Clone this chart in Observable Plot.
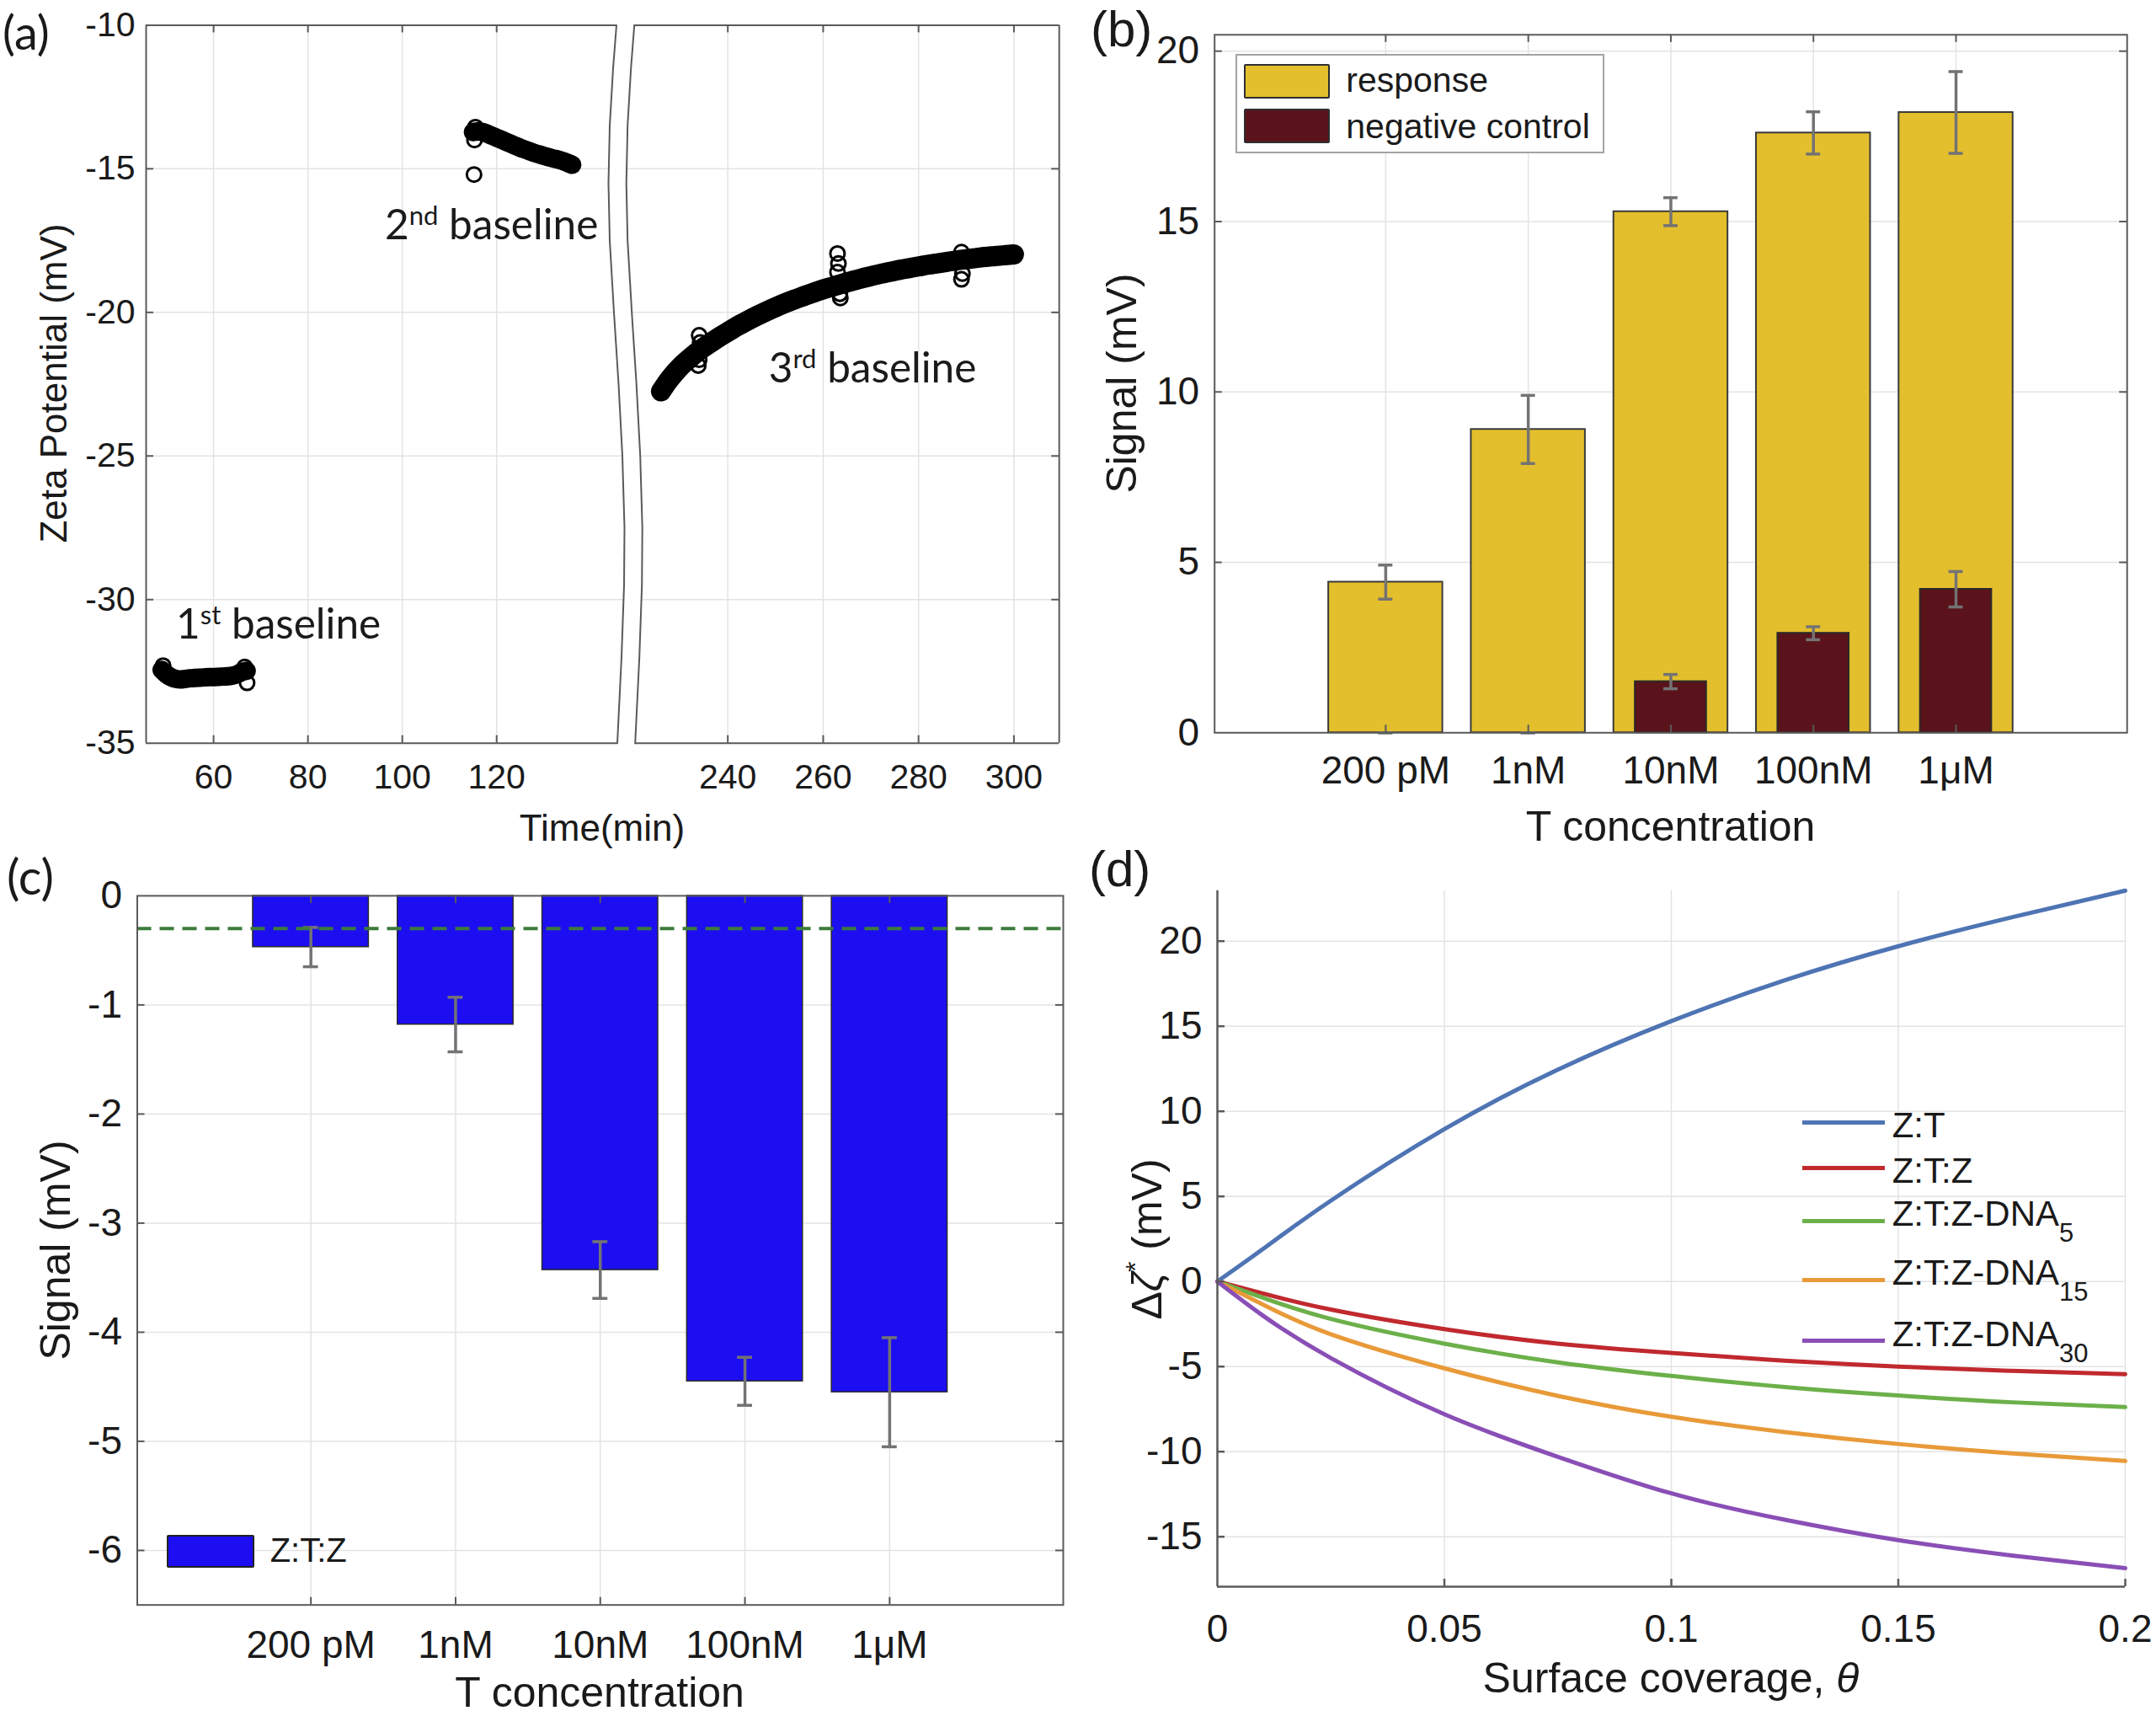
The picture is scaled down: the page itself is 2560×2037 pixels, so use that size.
<!DOCTYPE html>
<html><head><meta charset="utf-8">
<script src="https://cdn.jsdelivr.net/npm/d3@7"></script>
<script src="https://cdn.jsdelivr.net/npm/@observablehq/plot@0.6"></script>
<style>
html,body{margin:0;padding:0;background:#fff;}
#root{position:relative;width:2560px;height:2037px;background:#fff;overflow:hidden;font-family:"Liberation Sans",Arial,sans-serif;color:#1a1a1a;}
.panel{position:absolute;}
.panel svg{display:block;max-width:none;overflow:visible;}
.lbl{position:absolute;white-space:nowrap;line-height:1;}
.cal{font-family:Lato,"Liberation Sans",sans-serif;}
</style></head><body><div id="root"></div>
<script>
// ---------------- DATA ----------------
// Panel (a): zeta potential baselines (time in min, zeta in mV)
const base1Time = [49,50,51,52,53,54,55,56,57,58,59,60,61,62,63,64,65,66,67];
const base1Zeta = [-32.45,-32.6,-32.7,-32.76,-32.78,-32.76,-32.74,-32.73,-32.72,-32.71,-32.7,-32.7,-32.69,-32.68,-32.67,-32.65,-32.6,-32.52,-32.48];
const base2Time = [115,116,117,118,119,120,121,122,123,124,125,126,127,128,129,130,131,132,133,134,135,136];
const base2Zeta = [-13.72,-13.7,-13.72,-13.78,-13.85,-13.92,-13.99,-14.06,-14.13,-14.2,-14.27,-14.33,-14.39,-14.45,-14.5,-14.55,-14.6,-14.64,-14.68,-14.73,-14.79,-14.86];
const base3Time = [226,227,228,229,230,232,234,236,238,240,242,244,246,248,250,252,254,256,258,260,262,264,266,268,270,272,274,276,278,280,282,284,286,288,290,292,294,296,298,300];
const base3Zeta = [-22.75,-22.5,-22.28,-22.08,-21.9,-21.6,-21.33,-21.1,-20.88,-20.68,-20.48,-20.3,-20.13,-19.97,-19.82,-19.68,-19.55,-19.43,-19.31,-19.2,-19.1,-19.0,-18.91,-18.82,-18.74,-18.66,-18.59,-18.52,-18.46,-18.4,-18.34,-18.29,-18.24,-18.19,-18.15,-18.11,-18.07,-18.04,-18.01,-17.98];
const strayTime = [49.3,66.6,67.1,115.2,115.3,115.5,234,234.2,234,233.8,263,263.2,263,263.5,263.6,289,289.2,289];
const strayZeta = [-32.3,-32.35,-32.9,-15.2,-14.0,-13.55,-20.8,-21.05,-21.65,-21.85,-17.95,-18.3,-18.6,-19.35,-19.5,-17.9,-18.65,-18.85];
const aTimeTicks = [60,80,100,120,240,260,280,300];
const aZetaTicks = [-35,-30,-25,-20,-15,-10];

// Panel (b): response vs negative control
const concLabels = ["200 pM","1nM","10nM","100nM","1\u03BCM"];
const responseMean = [4.42, 8.9, 15.29, 17.6, 18.2];
const responseErr  = [0.5, 1.0, 0.41, 0.62, 1.2];
const controlMean  = [0, 0, 1.5, 2.92, 4.21];
const controlErr   = [0, 0, 0.21, 0.19, 0.52];
const bSignalTicks = [0,5,10,15,20];

// Panel (c): Z:T:Z signal
const ztzMean = [-0.47, -1.18, -3.43, -4.45, -4.55];
const ztzErr  = [0.18, 0.25, 0.26, 0.22, 0.5];
const noiseLevel = -0.3;
const cSignalTicks = [0,-1,-2,-3,-4,-5,-6];

// Panel (d): simulated delta zeta vs surface coverage
const coverage = [0, 0.01, 0.025, 0.05, 0.075, 0.1, 0.125, 0.15, 0.175, 0.2];
const dZT      = [0, 1.9, 4.75, 8.95, 12.45, 15.3, 17.7, 19.7, 21.4, 22.97];
const dZTZ     = [0, -0.7, -1.65, -2.8, -3.65, -4.2, -4.65, -5.0, -5.25, -5.45];
const dDNA5    = [0, -0.95, -2.2, -3.65, -4.75, -5.55, -6.2, -6.7, -7.1, -7.38];
const dDNA15   = [0, -1.35, -3.1, -5.1, -6.72, -7.95, -8.85, -9.55, -10.1, -10.55];
const dDNA30   = [0, -2.0, -4.5, -7.8, -10.3, -12.45, -14.0, -15.2, -16.1, -16.85];
const dSeries  = ["Z:T","Z:T:Z","Z:T:Z-DNA5","Z:T:Z-DNA15","Z:T:Z-DNA30"];
const dLegendBase = ["Z:T","Z:T:Z","Z:T:Z-DNA","Z:T:Z-DNA","Z:T:Z-DNA"];
const dLegendSub  = ["","","5","15","30"];
const dXTicks = [0,0.05,0.1,0.15,0.2];
const dYTicks = [-15,-10,-5,0,5,10,15,20];

// ---------------- STYLE ----------------
const GRID = "#e3e3e3", FRAME = "#5a5a5a", ERRC = "#737373";
const YELLOW = "#e4bf2d", MAROON = "#5a131a", BLUE = "#1d0ef2", DASHGREEN = "#3c7b3c";
const lineColors = ["#4e74b3","#c0292e","#6cb04a","#e89a39","#8a4fb6"];
const TL = 9; // inner tick length, px
const FONT = "Liberation Sans, Arial, sans-serif";

const root = document.getElementById("root");
function mount(svg, x, y, w, h) {
  const d = document.createElement("div");
  d.className = "panel";
  d.style.left = x + "px"; d.style.top = y + "px";
  d.style.width = w + "px"; d.style.height = h + "px";
  d.appendChild(svg); root.appendChild(d);
}
function addText(html, x, y, o = {}) {
  const d = document.createElement("div");
  d.className = "lbl" + (o.cal ? " cal" : "");
  d.style.left = x + "px"; d.style.top = y + "px";
  d.style.fontSize = (o.size || 50) + "px";
  const tx = o.anchor === "start" ? "0" : "-50%";
  d.style.transform = `translate(${tx},-50%)` + (o.rotate ? " rotate(-90deg)" : "");
  if (o.rotate) d.style.transformOrigin = "50% 50%";
  d.innerHTML = html;
  root.appendChild(d);
  return d;
}
const rows = (T, V) => T.map((t, i) => ({t, v: V[i]}));

// ---------------- PANEL (a) ----------------
{
  const A = {w:1280, h:1010, left:173, top:29.4, right:1257.2, bottom:881.7, breakL:731.5, breakR:752.7};
  const aXDomain = [45.7, 145.4, 220.4, 309.5];
  const aYDomain = [-35, -10];
  const aXRange = [A.left, A.breakL, A.breakR, A.right];
  const xa = d3.scaleLinear().domain(aXDomain).range(aXRange);
  const yPerPx = (aYDomain[1] - aYDomain[0]) / (A.bottom - A.top);
  // axis-break wiggle (pixel offset as a function of zeta)
  const breakShape = [[-10,0],[-11.5,-4],[-13.5,-8],[-15.5,-9.5],[-17.5,-8],[-20,-3],[-22.5,2.5],[-25,7],[-27.5,9.5],[-29.5,9],[-32,6],[-35,1]];
  const offAt = d3.scaleLinear().domain(breakShape.map(d => d[0])).range(breakShape.map(d => d[1]));
  const bl = v => xa.invert(A.breakL + offAt(v));
  const br = v => xa.invert(A.breakR + offAt(v));
  const breakVs = d3.range(-10, -35.001, -0.25);
  const leftBreak = breakVs.map(v => ({x: bl(v), y: v}));
  const rightBreak = breakVs.map(v => ({x: br(v), y: v}));
  const hGrid = aZetaTicks.filter(v => v > -35 && v < -10);
  const b1 = rows(base1Time, base1Zeta), b2 = rows(base2Time, base2Zeta), b3 = rows(base3Time, base3Zeta), st = rows(strayTime, strayZeta);
  const band = {x: "t", y: "v", stroke: "#000", strokeWidth: 22, strokeLinecap: "round", strokeLinejoin: "round", curve: "monotone-x"};
  const fr = {stroke: FRAME, strokeWidth: 2};
  const svg = Plot.plot({
    width: A.w, height: A.h,
    marginLeft: A.left, marginTop: A.top, marginRight: A.w - A.right, marginBottom: A.h - A.bottom,
    x: {type: "linear", domain: aXDomain, range: aXRange},
    y: {domain: aYDomain},
    style: {fontFamily: FONT, fontSize: "41px", color: "#1a1a1a", background: "transparent", overflow: "visible"},
    marks: [
      Plot.ruleX(aTimeTicks, {y1: -35, y2: -10, stroke: GRID, strokeWidth: 1.5}),
      Plot.ruleY(hGrid, {x1: aXDomain[0], x2: v => bl(v), stroke: GRID, strokeWidth: 1.5}),
      Plot.ruleY(hGrid, {x1: v => br(v), x2: aXDomain[3], stroke: GRID, strokeWidth: 1.5}),
      Plot.line(b1, band),
      Plot.line(b2, band),
      Plot.line(b3, {...band, strokeWidth: 24}),
      Plot.dot([...b1, ...b2, ...b3, ...st], {x: "t", y: "v", r: 8.5, stroke: "#000", strokeWidth: 3, fill: "none"}),
      Plot.ruleX([aXDomain[0]], {y1: -35, y2: -10, ...fr}),
      Plot.ruleX([aXDomain[3]], {y1: -35, y2: -10, ...fr}),
      Plot.ruleY([-35, -10], {x1: aXDomain[0], x2: v => bl(v), ...fr}),
      Plot.ruleY([-35, -10], {x1: v => br(v), x2: aXDomain[3], ...fr}),
      Plot.line(leftBreak, {x: "x", y: "y", curve: "natural", ...fr}),
      Plot.line(rightBreak, {x: "x", y: "y", curve: "natural", ...fr}),
      Plot.ruleX(aTimeTicks, {y1: -35, y2: -35 + TL * yPerPx, ...fr}),
      Plot.ruleX(aTimeTicks, {y1: -10, y2: -10 - TL * yPerPx, ...fr}),
      Plot.ruleY(hGrid, {x1: aXDomain[0], x2: xa.invert(A.left + TL), ...fr}),
      Plot.ruleY(hGrid, {x1: xa.invert(A.right - TL), x2: aXDomain[3], ...fr}),
      Plot.axisX(aTimeTicks, {tickSize: 0, tickPadding: 25, tickFormat: d => String(d), fontSize: 41, label: null}),
      Plot.axisY(aZetaTicks, {tickSize: 0, tickPadding: 13, tickFormat: d => String(d), fontSize: 41, label: null})
    ]
  });
  mount(svg, 0, 0, A.w, A.h);
  addText("Zeta Potential (mV)", 63.7, 455, {size: 44, rotate: true});
  addText("Time(min)", 715, 983, {size: 44});
  addText("(a)", 3, 38, {size: 56, cal: true, anchor: "start"});
  const sup = s => `<span style="font-size:31px;position:relative;top:-17px">${s}</span>`;
  addText("1" + sup("st") + " baseline", 209, 740, {size: 49.5, cal: true, anchor: "start"});
  addText("2" + sup("nd") + " baseline", 457, 266, {size: 49.5, cal: true, anchor: "start"});
  addText("3" + sup("rd") + " baseline", 912.7, 436, {size: 49.5, cal: true, anchor: "start"});
}

// ---------------- PANEL (b) ----------------
{
  const P = {ox: 1280, oy: 0, w: 1280, h: 1010, left: 161.7, top: 40.8, right: 1245.2, bottom: 869.3};
  const xDom = [-0.2, 6.2], yDom = [0, 20.48];
  const yPerPx = (yDom[1] - yDom[0]) / (P.bottom - P.top);
  const xPerPx = (xDom[1] - xDom[0]) / (P.right - P.left);
  const idx = concLabels.map((c, i) => i + 1);
  const data = concLabels.map((c, i) => ({i: i + 1, resp: responseMean[i], respErr: responseErr[i], ctrl: controlMean[i], ctrlErr: controlErr[i]}));
  const cap = 0.05;
  const eb = {stroke: ERRC, strokeWidth: 3.5};
  const fr = {stroke: FRAME, strokeWidth: 2};
  const svg = Plot.plot({
    width: P.w, height: P.h,
    marginLeft: P.left, marginTop: P.top, marginRight: P.w - P.right, marginBottom: P.h - P.bottom,
    x: {domain: xDom}, y: {domain: yDom},
    style: {fontFamily: FONT, fontSize: "46px", color: "#1a1a1a", background: "transparent", overflow: "visible"},
    marks: [
      Plot.ruleY(bSignalTicks.filter(v => v > 0), {stroke: GRID, strokeWidth: 1.5}),
      Plot.ruleX(idx, {stroke: GRID, strokeWidth: 1.5}),
      Plot.rect(data, {x1: d => d.i - 0.4, x2: d => d.i + 0.4, y1: 0, y2: "resp", fill: YELLOW, stroke: "#3a3a3a", strokeWidth: 2}),
      Plot.rect(data.filter(d => d.ctrl > 0), {x1: d => d.i - 0.25, x2: d => d.i + 0.25, y1: 0, y2: "ctrl", fill: MAROON, stroke: "#2a2a2a", strokeWidth: 2}),
      Plot.ruleX(data, {x: "i", y1: d => d.resp - d.respErr, y2: d => d.resp + d.respErr, ...eb}),
      Plot.ruleY(data, {y: d => d.resp + d.respErr, x1: d => d.i - cap, x2: d => d.i + cap, ...eb}),
      Plot.ruleY(data, {y: d => d.resp - d.respErr, x1: d => d.i - cap, x2: d => d.i + cap, ...eb}),
      Plot.ruleX(data, {x: "i", y1: d => d.ctrl - d.ctrlErr, y2: d => d.ctrl + d.ctrlErr, ...eb}),
      Plot.ruleY(data, {y: d => d.ctrl + d.ctrlErr, x1: d => d.i - cap, x2: d => d.i + cap, ...eb}),
      Plot.ruleY(data, {y: d => Math.max(0, d.ctrl - d.ctrlErr), x1: d => d.i - cap, x2: d => d.i + cap, ...eb}),
      Plot.frame(fr),
      Plot.ruleX(idx, {y1: yDom[0], y2: yDom[0] + TL * yPerPx, ...fr}),
      Plot.ruleX(idx, {y1: yDom[1], y2: yDom[1] - TL * yPerPx, ...fr}),
      Plot.ruleY(bSignalTicks.filter(v => v > 0), {x1: xDom[0], x2: xDom[0] + TL * xPerPx, ...fr}),
      Plot.ruleY(bSignalTicks.filter(v => v > 0), {x1: xDom[1] - TL * xPerPx, x2: xDom[1], ...fr}),
      Plot.axisX(idx, {tickSize: 0, tickPadding: 28, tickFormat: i => concLabels[i - 1], fontSize: 46, label: null}),
      Plot.axisY(bSignalTicks, {tickSize: 0, tickPadding: 18, tickFormat: d => String(d), fontSize: 46, label: null})
    ]
  });
  mount(svg, P.ox, P.oy, P.w, P.h);
  addText("(b)", 1295, 35, {size: 60, anchor: "start"});
  addText("Signal (mV)", 1332, 455, {size: 50, rotate: true});
  addText("T concentration", 1983.5, 980.6, {size: 50});
  // legend
  const box = document.createElement("div");
  box.style.cssText = "position:absolute;left:1466.7px;top:64px;width:434px;height:114px;border:2px solid #a3a3a3;background:#fff;";
  root.appendChild(box);
  const sw = (top, color) => {
    const s = document.createElement("div");
    s.style.cssText = `position:absolute;left:1477.3px;top:${top}px;width:98px;height:37px;border:2px solid #2e2e2e;border-radius:2px;background:${color};`;
    root.appendChild(s);
  };
  sw(75.7, YELLOW); sw(129.3, MAROON);
  addText("response", 1598.3, 95, {size: 41, anchor: "start"});
  addText("negative control", 1598.3, 150, {size: 41, anchor: "start"});
}

// ---------------- PANEL (c) ----------------
{
  const P = {ox: 0, oy: 1010, w: 1280, h: 1027, left: 162.5, top: 52.9, right: 1262, bottom: 894.7};
  const xDom = [-0.2, 6.2], yDom = [-6.5, 0];
  const yPerPx = (yDom[1] - yDom[0]) / (P.bottom - P.top);
  const xPerPx = (xDom[1] - xDom[0]) / (P.right - P.left);
  const idx = concLabels.map((c, i) => i + 1);
  const data = concLabels.map((c, i) => ({i: i + 1, m: ztzMean[i], e: ztzErr[i]}));
  const cap = 0.052;
  const eb = {stroke: ERRC, strokeWidth: 3.5};
  const fr = {stroke: FRAME, strokeWidth: 2};
  const gy = cSignalTicks.filter(v => v < 0);
  const svg = Plot.plot({
    width: P.w, height: P.h,
    marginLeft: P.left, marginTop: P.top, marginRight: P.w - P.right, marginBottom: P.h - P.bottom,
    x: {domain: xDom}, y: {domain: yDom},
    style: {fontFamily: FONT, fontSize: "46px", color: "#1a1a1a", background: "transparent", overflow: "visible"},
    marks: [
      Plot.ruleY(gy, {stroke: GRID, strokeWidth: 1.5}),
      Plot.ruleX(idx, {stroke: GRID, strokeWidth: 1.5}),
      Plot.rect(data, {x1: d => d.i - 0.4, x2: d => d.i + 0.4, y1: 0, y2: "m", fill: BLUE, stroke: "#2a2a2a", strokeWidth: 1.5}),
      Plot.ruleX(data, {x: "i", y1: d => d.m - d.e, y2: d => d.m + d.e, ...eb}),
      Plot.ruleY(data, {y: d => d.m + d.e, x1: d => d.i - cap, x2: d => d.i + cap, ...eb}),
      Plot.ruleY(data, {y: d => d.m - d.e, x1: d => d.i - cap, x2: d => d.i + cap, ...eb}),
      Plot.ruleY([noiseLevel], {stroke: DASHGREEN, strokeWidth: 4, strokeDasharray: "17,10"}),
      Plot.frame(fr),
      Plot.ruleX(idx, {y1: yDom[0], y2: yDom[0] + TL * yPerPx, ...fr}),
      Plot.ruleX(idx, {y1: yDom[1], y2: yDom[1] - TL * yPerPx, ...fr}),
      Plot.ruleY(gy, {x1: xDom[0], x2: xDom[0] + TL * xPerPx, ...fr}),
      Plot.ruleY(gy, {x1: xDom[1] - TL * xPerPx, x2: xDom[1], ...fr}),
      Plot.axisX(idx, {tickSize: 0, tickPadding: 30, tickFormat: i => concLabels[i - 1], fontSize: 46, label: null}),
      Plot.axisY(cSignalTicks, {tickSize: 0, tickPadding: 18, tickFormat: d => String(d), fontSize: 46, label: null})
    ]
  });
  mount(svg, P.ox, P.oy, P.w, P.h);
  addText("(c)", 8, 1040, {size: 58, cal: true, anchor: "start"});
  addText("Signal (mV)", 66, 1483.8, {size: 50, rotate: true});
  addText("T concentration", 712, 2009, {size: 50});
  const s = document.createElement("div");
  s.style.cssText = `position:absolute;left:198px;top:1821.7px;width:100px;height:35px;border:2px solid #222;border-radius:2px;background:${BLUE};`;
  root.appendChild(s);
  addText("Z:T:Z", 320.7, 1840, {size: 40, anchor: "start"});
}

// ---------------- PANEL (d) ----------------
{
  const P = {ox: 1280, oy: 1010, w: 1280, h: 1027, left: 165, top: 46.7, right: 1243, bottom: 873.1};
  const xDom = [0, 0.2], yDom = [-17.94, 22.97];
  const yPerPx = (yDom[1] - yDom[0]) / (P.bottom - P.top);
  const xPerPx = (xDom[1] - xDom[0]) / (P.right - P.left);
  const seriesVals = [dZT, dZTZ, dDNA5, dDNA15, dDNA30];
  const table = seriesVals.flatMap((vals, k) => coverage.map((c, i) => ({theta: c, dz: vals[i], series: dSeries[k]})));
  const fr = {stroke: FRAME, strokeWidth: 2.5};
  const svg = Plot.plot({
    width: P.w, height: P.h,
    marginLeft: P.left, marginTop: P.top, marginRight: P.w - P.right, marginBottom: P.h - P.bottom,
    x: {domain: xDom}, y: {domain: yDom},
    color: {domain: dSeries, range: lineColors},
    style: {fontFamily: FONT, fontSize: "46px", color: "#1a1a1a", background: "transparent", overflow: "visible"},
    marks: [
      Plot.ruleY(dYTicks, {stroke: GRID, strokeWidth: 1.5}),
      Plot.ruleX(dXTicks.filter(v => v > 0), {stroke: GRID, strokeWidth: 1.5}),
      Plot.line(table, {x: "theta", y: "dz", z: "series", stroke: "series", strokeWidth: 5, curve: "natural"}),
      Plot.ruleX([xDom[0]], {...fr}),
      Plot.ruleY([yDom[0]], {...fr}),
      Plot.ruleY(dYTicks, {x1: xDom[0], x2: xDom[0] + TL * xPerPx, ...fr}),
      Plot.ruleX(dXTicks.filter(v => v > 0), {y1: yDom[0], y2: yDom[0] + TL * yPerPx, ...fr}),
      Plot.axisX(dXTicks, {tickSize: 0, tickPadding: 33, tickFormat: d => String(d), fontSize: 46, label: null}),
      Plot.axisY(dYTicks, {tickSize: 0, tickPadding: 18, tickFormat: d => String(d), fontSize: 46, label: null})
    ]
  });
  mount(svg, P.ox, P.oy, P.w, P.h);
  addText("(d)", 1293, 1032, {size: 60, anchor: "start"});
  addText("\u0394<i>\u03B6</i><span style=\"font-size:32px;position:relative;top:-20px\">*</span> (mV)", 1362, 1471, {size: 50, rotate: true});
  addText("Surface coverage, <i>\u03B8</i>", 1984, 1992, {size: 50});
  // legend
  const rowY = [1332.7, 1386.7, 1449, 1519, 1591.7];
  dSeries.forEach((name, k) => {
    const ln = document.createElement("div");
    ln.style.cssText = `position:absolute;left:2140px;top:${rowY[k] - 2.5}px;width:98px;height:5px;background:${lineColors[k]};`;
    root.appendChild(ln);
    const sub = dLegendSub[k];
    const html = dLegendBase[k] + (sub ? `<span style="font-size:31px;position:relative;top:19px">${sub}</span>` : "");
    addText(html, 2246.7, rowY[k] + (sub ? -8 : 3), {size: 42, anchor: "start"});
  });
}
</script></body></html>
